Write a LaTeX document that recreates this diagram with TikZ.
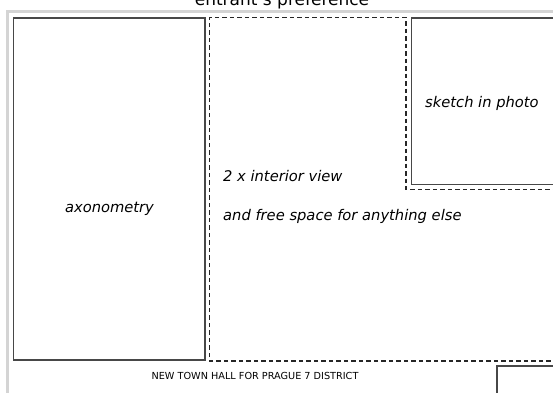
\documentclass[tikz,border=0pt]{standalone}
\usepackage{fontspec}
\setmainfont{DejaVu Sans}

\definecolor{folha}{HTML}{D4D4D4}
\definecolor{traco}{HTML}{474747}

\def\larg{553}
\def\alt{392}
\def\divx{209.5}
\def\fotox{406}

\begin{document}
\begin{tikzpicture}[x=1pt,y=-1pt,
    caixa/.style={draw=traco, line width=1.3pt},
    tracejado/.style={draw=black!85, line width=1.1pt, dash pattern=on 4.5pt off 3pt},
    rotulo/.style={font=\fontsize{14.7}{16}\selectfont\itshape, text=black, inner sep=0pt}]
\useasboundingbox (0,0) rectangle (\larg,\alt);

%folha
    \draw [folha, line width=2.6pt] (7.5,\alt+5) -- (7.5,11.5) -- (\larg+5,11.5);
    \node (titulo) [font=\fontsize{17}{18}\selectfont, anchor=base] at (282,5) {entrant's preference};

%axonometria
    \draw [caixa] (13.3,18) rectangle (205,360);
    \node (axo) [rotulo] at (109.5,209) {axonometry};

%area livre
    \draw [tracejado] (\larg+5,361) -- (\divx,361) -- (\divx,17.3) -- (\fotox,17.3)
        -- (\fotox,189.3) -- (\larg+5,189.3);
    \node (interior) [rotulo, anchor=west] at (223,176) {2 x interior view};
    \node (livre) [rotulo, anchor=west] at (223,216) {and free space for anything else};

%foto
    \draw [caixa] (\larg+5,18) -- (411.7,18) -- (411.7,184.5) -- (\larg+5,184.5);
    \node (foto) [rotulo, anchor=west] at (425,103) {sketch in photo};

%carimbo
    \node (projeto) [font=\fontsize{9.7}{11}\selectfont] at (255,376) {NEW TOWN HALL FOR PRAGUE 7 DISTRICT};
    \draw [caixa] (497,\alt+5) -- (497,366) -- (\larg+5,366);

\end{tikzpicture}
\end{document}
